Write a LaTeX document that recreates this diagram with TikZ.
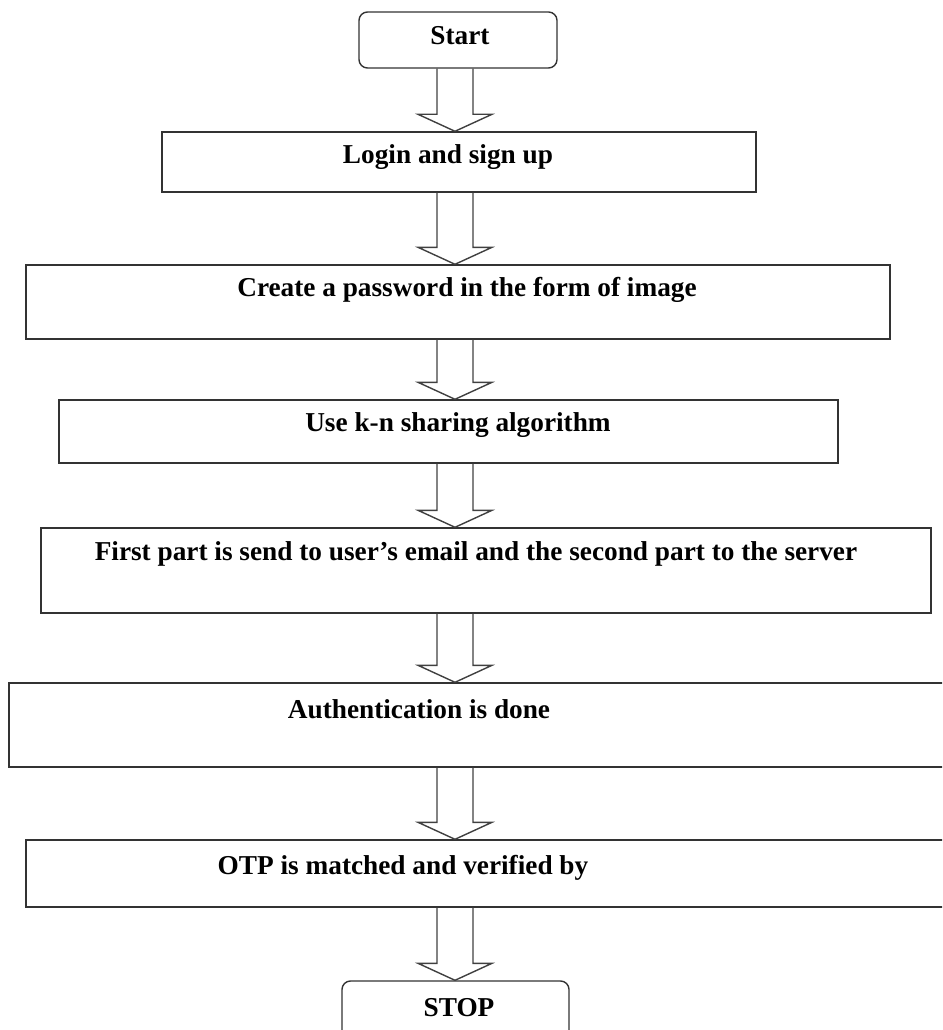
\documentclass[tikz,border=0pt]{standalone}
\usepackage{fontspec}
\setmainfont{Liberation Serif}
\usetikzlibrary{calc,fit}

\tikzset{
  box/.style={draw=black!80, line width=1pt, inner sep=0pt},
  endbox/.style={box, rounded corners=6pt},
  txt/.style={font=\fontsize{19.4}{23}\selectfont\bfseries, inner sep=0pt},
  arrowline/.style={draw=black!75, line width=1pt, line join=miter},
}
% hollow block arrow from the bottom of #1 to the top of #2
\newcommand{\hollowarrow}[2]{%
  \draw[arrowline] ($(ax |- #1.south)+(-18,0)$) -- ($(ax |- #2.north)+(-18,-17)$)
    -- ++(-19,0) -- (ax |- #2.north) -- ($(ax |- #2.north)+(37,-17)$)
    -- ++(-19,0) -- ($(ax |- #1.south)+(18,0)$);}

\begin{document}
\begin{tikzpicture}[x=0.025cm,y=-0.025cm]
\clip (0,0) rectangle (942,1030);
\coordinate (ax) at (455,0);
% boxes
\node[endbox, fit={(359,12) (557,68)}] (start) {};
\node[box, fit={(162,132) (756,192)}] (login) {};
\node[box, fit={(26,265) (890,339)}] (create) {};
\node[box, fit={(59,400) (838,463)}] (share) {};
\node[box, fit={(41,528) (931,613)}] (send) {};
\node[box, fit={(9,683) (955,767)}] (auth) {};
\node[box, fit={(26,840) (955,907)}] (otp) {};
\node[endbox, fit={(342,981) (569,1070)}] (stop) {};
% texts
\node[txt] (tstart) at (460,36) {Start};
\node[txt] (tlogin) at (448,157) {Login and sign up};
\node[txt] (tcreate) at (467,290) {Create a password in the form of image};
\node[txt] (tshare) at (458,425) {Use k-n sharing algorithm};
\node[txt] (tsend) at (476,554) {First part is send to user’s email and the second part to the server};
\node[txt] (tauth) at (419,709) {Authentication is done};
\node[txt] (totp) at (403,868) {OTP is matched and verified by};
\node[txt] (tstop) at (459,1008) {STOP};
% arrows
\hollowarrow{start}{login}
\hollowarrow{login}{create}
\hollowarrow{create}{share}
\hollowarrow{share}{send}
\hollowarrow{send}{auth}
\hollowarrow{auth}{otp}
\hollowarrow{otp}{stop}
\end{tikzpicture}
\end{document}
